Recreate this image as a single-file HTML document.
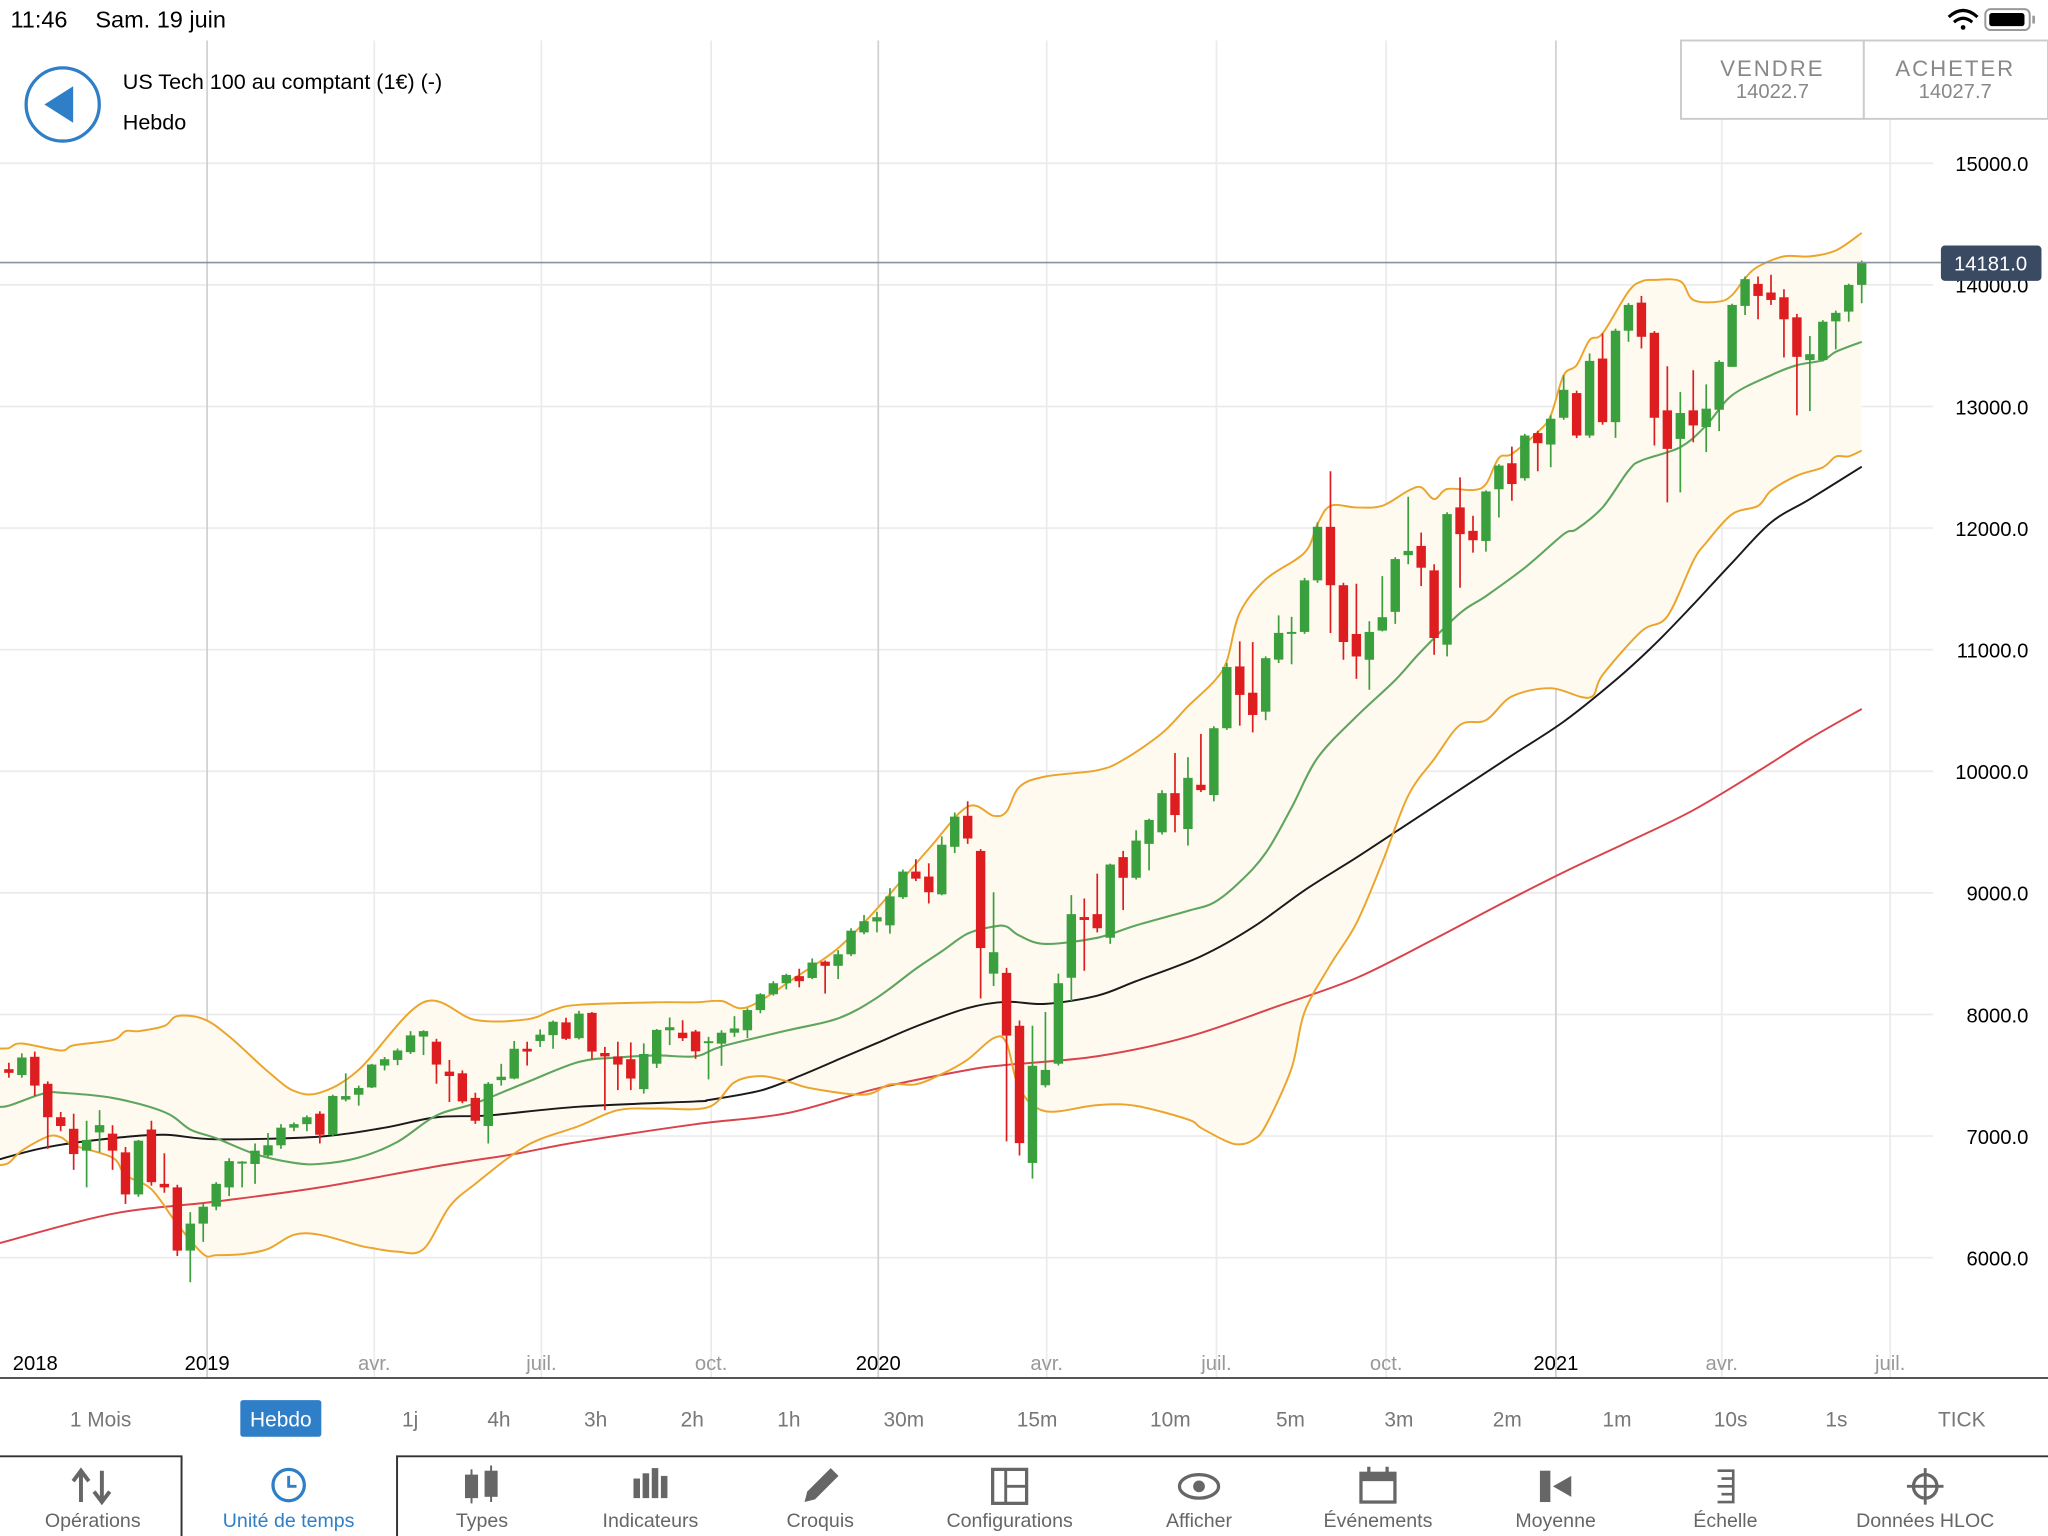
<!DOCTYPE html>
<html><head><meta charset="utf-8"><style>
html,body{margin:0;padding:0;background:#fff;width:2048px;height:1536px;overflow:hidden}
svg{display:block}
text{font-family:"Liberation Sans",sans-serif}
</style></head><body>
<svg id="root" width="2048" height="1536" viewBox="0 0 1568 1176" preserveAspectRatio="none" xmlns="http://www.w3.org/2000/svg">
<rect x="0" y="0" width="1568" height="1176" fill="#fff"/>
<g id="grid"></g>
<g id="bands"></g>
<g id="candles"></g>
<!-- status bar -->
<text x="8" y="21" font-size="18" fill="#000">11:46</text>
<text x="73" y="21" font-size="18" fill="#000">Sam. 19 juin</text>
<g fill="none" stroke="#000" stroke-width="2.4">
<path d="M1492 13 q11 -10 22 0"/><path d="M1496 17 q7 -6 14 0"/><circle cx="1503" cy="21" r="1.8" fill="#000" stroke="none"/></g>
<g><rect x="1520" y="7" width="34" height="16" rx="4" fill="none" stroke="#999" stroke-width="1.5"/><rect x="1523" y="10" width="27" height="10" rx="2" fill="#000"/><rect x="1556" y="12" width="2" height="6" fill="#999"/></g>
<!-- header -->
<g><circle cx="48" cy="80" r="28" fill="#fff" stroke="#2f7fc8" stroke-width="2.5"/><path d="M34 80 L56 66 L56 94 Z" fill="#2f7fc8"/></g>
<text x="94" y="68" font-size="16.5" fill="#000">US Tech 100 au comptant (1€) (-)</text>
<text x="94" y="99" font-size="16.5" fill="#000">Hebdo</text>
<g><rect x="1287" y="31" width="140" height="60" fill="#fff" stroke="#ccc" stroke-width="1.5"/>
<text x="1357" y="58" font-size="17" fill="#888" text-anchor="middle" letter-spacing="1.5">VENDRE</text>
<text x="1357" y="75" font-size="15.5" fill="#888" text-anchor="middle">14022.7</text></g>
<g><rect x="1427" y="31" width="141" height="60" fill="#fff" stroke="#ccc" stroke-width="1.5"/>
<text x="1497" y="58" font-size="17" fill="#888" text-anchor="middle" letter-spacing="1.5">ACHETER</text>
<text x="1497" y="75" font-size="15.5" fill="#888" text-anchor="middle">14027.7</text></g>
<g id="yaxis"></g>
<g id="xaxis"></g>
<line x1="0" y1="201" x2="1486" y2="201" stroke="#8a929c" stroke-width="1.2"/>
<g><rect x="1486" y="188" width="77" height="27" rx="3" fill="#3b4a63"/><text x="1524" y="207" font-size="15.5" fill="#fff" text-anchor="middle">14181.0</text></g>
<line x1="0" y1="1055" x2="1568" y2="1055" stroke="#555" stroke-width="1.5"/>
<g id="tf"></g>
<path d="M0 1115 H139 V1176 M304 1176 V1115 H1568" fill="none" stroke="#333" stroke-width="1.5"/>
<g id="tabs"></g>
</svg>
<script>
// ---------------- data ----------------
const opens=[7550,7502,7652,7430,7155,7060,6880,7030,7020,6866,6520,7054,6607,6578,6058,6280,6420,6578,6780,6770,6840,6924,7069,7098,7184,7011,7300,7340,7400,7580,7626,7690,7818,7776,7530,7516,7314,7083,7460,7473,7718,7782,7830,7935,7805,8013,7683,7655,7632,7386,7595,7870,7850,7860,7765,7760,7850,7870,8036,8166,8257,8315,8300,8434,8400,8495,8675,8765,8733,8964,9175,9134,8988,9379,9634,9345,8336,8342,7907,6779,7418,7595,8302,8801,8825,8631,9294,9124,9403,9498,9820,9525,9889,9804,10354,10862,10646,10490,10918,11136,11146,11570,12010,11530,11129,10917,11157,11311,11777,11853,11652,11041,12170,11977,11894,12319,12533,12410,12781,12687,12907,13110,12761,13394,12871,13623,13854,13606,12968,12733,12968,12831,12973,13326,13827,14008,13937,13898,13733,13381,13381,13700,13780,14000];
const highs=[7603,7680,7695,7450,7198,7184,7126,7213,7089,6910,6968,7126,6858,6600,6375,6448,6621,6818,6794,6939,7025,7098,7112,7170,7204,7340,7516,7415,7594,7650,7720,7863,7870,7800,7626,7540,7357,7444,7594,7782,7776,7877,7950,7973,8030,8020,7733,7776,7770,7762,7880,7975,7952,7873,7816,7870,7986,8050,8175,8274,8335,8376,8461,8444,8529,8709,8818,8845,9039,9192,9277,9243,9464,9661,9753,9360,9005,8383,7950,7907,8020,8336,8981,8954,9158,9240,9345,9515,9610,9844,10150,10116,10307,10370,10891,11068,11062,10945,11282,11270,11590,12046,12467,11550,11542,11234,11605,11760,12258,11963,11702,12130,12417,12101,12310,12525,12670,12775,12800,12927,13257,13130,13436,13601,13640,13850,13909,13620,13331,13119,13298,13182,13380,13845,14069,14069,14083,13964,13761,13579,13710,13788,14010,14200];
const lows=[7480,7480,7329,6895,7040,6722,6578,6866,6722,6442,6500,6592,6534,6014,5798,6130,6390,6506,6578,6607,6823,6895,7040,7040,6939,7000,7285,7250,7395,7540,7583,7675,7666,7430,7280,7270,7100,6939,7415,7467,7580,7733,7718,7790,7795,7632,7213,7378,7378,7349,7560,7748,7782,7635,7466,7578,7816,7806,8010,8155,8206,8223,8290,8172,8291,8480,8660,8675,8665,8950,9097,8913,8980,9328,9403,8131,8234,6956,6840,6650,7400,7580,8111,8359,8675,8580,8859,9110,9185,9480,9498,9389,9830,9753,10340,10375,10320,10420,10890,10880,11130,11550,11137,10917,10760,10670,11150,11212,11702,11523,10958,10945,11509,11798,11806,12087,12225,12390,12467,12500,12890,12740,12742,12850,12742,13532,13477,12679,12211,12293,12706,12624,12797,13326,13752,13717,13835,13403,12927,12962,13370,13469,13697,13849];
const closes=[7520,7646,7415,7155,7083,6852,6968,7090,6880,6520,6962,6621,6578,6058,6280,6419,6607,6794,6790,6880,6924,7069,7098,7155,7011,7330,7329,7395,7588,7632,7704,7828,7863,7588,7494,7285,7126,7430,7488,7718,7695,7834,7940,7800,8007,7695,7655,7588,7473,7675,7873,7895,7805,7697,7780,7850,7885,8036,8166,8257,8325,8274,8427,8400,8495,8689,8767,8800,8971,9175,9117,9005,9396,9627,9447,8546,8512,7826,6942,7578,7544,8257,8825,8777,8709,9233,9124,9430,9600,9820,9640,9946,9845,10354,10857,10628,10463,10930,11138,11146,11570,12010,11530,11063,10944,11146,11267,11745,11812,11674,11096,12115,11950,11900,12301,12514,12362,12761,12698,12899,13137,12761,13375,12871,13623,13835,13573,12907,12651,12946,12844,12982,13367,13835,14047,13909,13876,13717,13408,13430,13697,13770,14000,14181];

const upperIdx=[-0.7,0,1,4,5,8,9,10,12,13,15,17,20,22,24,27,32,36,40,42,44,50,53,55,57,61,64,67,71,74,76,77,78,80,84,86,89,91,93,94,95,97,100,101,102,104,106,108,109,110,111,113,114,115,116,118,119,120,121,122,123,125,126,127,129,130,132,133,134,135,137,139,141,143];
const upperVal=[7720,7724,7762,7704,7747,7790,7863,7863,7906,7987,7964,7820,7530,7372,7357,7545,8100,7955,7960,8036,8080,8100,8100,8111,8060,8325,8546,8869,9362,9709,9634,9668,9872,9957,10008,10093,10314,10534,10738,10908,11303,11578,11798,12032,12183,12170,12183,12307,12335,12238,12321,12313,12362,12577,12610,12789,12927,13257,13339,13546,13601,13945,14028,14041,14030,13876,13862,13917,14055,14150,14234,14234,14283,14427];
const midIdx=[-0.7,0,2,3,4,8,12,14,16,19,22,24,27,30,33,36,40,44,47,50,53,55,60,64,67,70,72,74,76,77,78,80,84,87,91,93,95,97,99,101,104,107,109,112,114,117,120,121,123,125,126,129,131,133,136,138,140,141,143];
const midVal=[7240,7250,7328,7357,7357,7314,7198,7054,6982,6852,6780,6771,6823,6953,7170,7270,7444,7610,7646,7663,7656,7737,7867,7968,8138,8376,8519,8665,8723,8723,8648,8580,8631,8733,8852,8920,9090,9328,9702,10110,10450,10750,10986,11300,11440,11674,11949,11991,12170,12472,12555,12665,12844,13092,13257,13339,13380,13449,13532];
const lowerIdx=[-0.7,0,1,3,4,5,8,9,11,13,15,16,18,20,22,24,27,28,30,32,34,36,40,44,47,50,54,56,58,60,62,66,68,70,72,74,76,77,78,80,84,87,91,92,94,95,96,97,99,100,102,104,106,108,110,112,114,116,119,122,123,126,128,130,131,133,135,136,138,140,141,142,143];
const lowerVal=[6760,6780,6880,6996,6990,6924,6823,6679,6563,6274,6029,6020,6029,6072,6188,6188,6101,6080,6049,6070,6419,6607,6924,7083,7213,7227,7238,7442,7493,7452,7391,7340,7425,7425,7510,7629,7806,7765,7391,7204,7255,7248,7136,7068,6956,6932,6966,7085,7560,8020,8410,8750,9250,9800,10100,10380,10420,10615,10683,10606,10793,11151,11275,11729,11880,12114,12183,12307,12431,12500,12588,12590,12637];
const ma50Idx=[-0.7,3,8,12,16,24,29,33,37,44,53,54,58,61,64,67,70,74,77,80,84,87,92,96,100,104,108,112,116,120,124,127,130,133,136,139,143];
const ma50Val=[6810,6910,6982,7011,6973,6996,7069,7155,7170,7242,7285,7296,7374,7493,7629,7765,7901,8053,8104,8087,8155,8274,8478,8716,9022,9290,9570,9850,10130,10408,10750,11041,11371,11715,12046,12238,12505];
const ma100Idx=[-0.7,8,16,24,33,39,44,53,60,67,74,77,84,91,98,104,110,115,120,125,130,135,139,143];
const ma100Val=[6120,6361,6462,6578,6751,6852,6953,7098,7187,7391,7544,7585,7656,7816,8071,8300,8620,8900,9170,9420,9680,10000,10270,10512];

const yTicks=[15000,14000,13000,12000,11000,10000,9000,8000,7000,6000];
const yTickLabels=["15000.0","14000.0","13000.0","12000.0","11000.0","10000.0","9000.0","8000.0","7000.0","6000.0"];
const xTickWeeks=[-36.8,15.3,28.2,41.1,54.2,67.1,80.1,93.2,106.3,119.4,132.2,145.2];
const xTickLabels=["2018","2019","avr.","juil.","oct.","2020","avr.","juil.","oct.","2021","avr.","juil."];
const xTickMajor=[true,true,false,false,false,true,false,false,false,true,false,false];

// ---------------- scales ----------------
const NS="http://www.w3.org/2000/svg";
function yS(v){return 125+(15000-v)*0.0931;}
function xS(i){return 6.8+i*9.92;}
function mk(tag,attrs,parent){const e=document.createElementNS(NS,tag);for(const k in attrs)e.setAttribute(k,attrs[k]);parent.appendChild(e);return e;}

const grid=document.getElementById('grid');
yTicks.forEach((v,i)=>{
  const l=mk('line',{x1:0,x2:1480,y1:yS(v),y2:yS(v),stroke:'#ebebeb','stroke-width':1.3},grid);
  
  
});
xTickWeeks.forEach((w,i)=>{
  const x=xS(w);
  if(x<0)return;
  const l=mk('line',{x1:x,x2:x,y1:31,y2:1055,stroke:xTickMajor[i]?'#d0d0d0':'#ebebeb','stroke-width':1.3},grid);
  
  
});

const yax=document.getElementById('yaxis');
yTicks.forEach((v,i)=>{
  const t=mk('text',{x:1553,y:yS(v)+6,'font-size':15.5,fill:'#000','text-anchor':'end'},yax);
  t.textContent=yTickLabels[i];
  
  
});
const xax=document.getElementById('xaxis');
xTickWeeks.forEach((w,i)=>{
  let x=xS(w); if(x<0)x=27;
  const t=mk('text',{x:x,y:1049,'font-size':15.5,fill:xTickMajor[i]?'#000':'#999','text-anchor':'middle'},xax);
  t.textContent=xTickLabels[i];
  
  
});

// ---------------- indicators ----------------
const bands=document.getElementById('bands');
function xy(idx,val){return idx.map((d,k)=>[xS(d),yS(val[k])]);}
function smooth(p){
  let d='M'+p[0][0].toFixed(1)+' '+p[0][1].toFixed(1);
  for(let i=0;i<p.length-1;i++){
    const p0=p[Math.max(0,i-1)],p1=p[i],p2=p[i+1],p3=p[Math.min(p.length-1,i+2)];
    const c1=[p1[0]+(p2[0]-p0[0])/6,p1[1]+(p2[1]-p0[1])/6];
    const c2=[p2[0]-(p3[0]-p1[0])/6,p2[1]-(p3[1]-p1[1])/6];
    d+=` C${c1[0].toFixed(1)} ${c1[1].toFixed(1)} ${c2[0].toFixed(1)} ${c2[1].toFixed(1)} ${p2[0].toFixed(1)} ${p2[1].toFixed(1)}`;
  }
  return d;
}
const up=xy(upperIdx,upperVal), lo=xy(lowerIdx,lowerVal);
const fillPath=smooth(up)+' L'+smooth(lo.slice().reverse()).slice(1)+' Z';
const bf=mk('path',{d:fillPath,fill:'#fffaf0',stroke:'none'},bands);


function line(idx,val,color,name,w){
  const p=mk('path',{d:smooth(xy(idx,val)),fill:'none',stroke:color,'stroke-width':w,'stroke-linejoin':'round'},bands);
  
  
}
line(ma100Idx,ma100Val,'#d9434a','moving-average-long',1.5);
line(ma50Idx,ma50Val,'#1a1a1a','moving-average-medium',1.5);
line(upperIdx,upperVal,'#eca52c','bollinger-upper',1.5);
line(lowerIdx,lowerVal,'#eca52c','bollinger-lower',1.5);
line(midIdx,midVal,'#5ea65e','bollinger-middle',1.6);

// ---------------- candles ----------------
const cg=document.getElementById('candles');
closes.forEach((c,i)=>{
  const o=opens[i],isUp=c>=o,col=isUp?'#3a9f3d':'#dd1d1f',x=xS(i);
  const g=mk('g',{},cg);
  
  
  mk('line',{x1:x,x2:x,y1:yS(highs[i]),y2:yS(lows[i]),stroke:col,'stroke-width':1.3},g);
  const top=yS(Math.max(o,c)),bot=yS(Math.min(o,c));
  mk('rect',{x:x-3.6,y:top,width:7.2,height:Math.max(1.5,bot-top),fill:col},g);
});

// ---------------- timeframe bar ----------------
const tfLabels=["1 Mois","Hebdo","1j","4h","3h","2h","1h","30m","15m","10m","5m","3m","2m","1m","10s","1s","TICK"];
const tfX=[77,215,314,382,456,530,604,692,794,896,988,1071,1154,1238,1325,1406,1502];
const tf=document.getElementById('tf');
tfLabels.forEach((s,i)=>{
  const g=mk('g',{},tf);
  
  
  if(i===1) mk('rect',{x:184,y:1072,width:62,height:28,rx:2,fill:'#2f7fc8'},g);
  const t=mk('text',{x:tfX[i],y:1092,'font-size':16,fill:i===1?'#fff':'#777','text-anchor':'middle'},g);
  t.textContent=s;
});

// ---------------- tabs ----------------
const tabLabels=["Opérations","Unité de temps","Types","Indicateurs","Croquis","Configurations","Afficher","Événements","Moyenne","Échelle","Données HLOC"];
const tabX=[71,221,369,498,628,773,918,1055,1191,1321,1474];
const tabs=document.getElementById('tabs');
tabLabels.forEach((s,i)=>{
  const g=mk('g',{},tabs);
  
  
  const col=i===1?'#2f7fc8':'#666';
  const x=tabX[i];
  if(i===0){mk('path',{d:`M${x-9} 1150 V1128 M${x-15} 1134 L${x-9} 1126 L${x-3} 1134 M${x+7} 1126 V1148 M${x+1} 1142 L${x+7} 1150 L${x+13} 1142`,fill:'none',stroke:col,'stroke-width':3},g);}
  else if(i===1){mk('circle',{cx:x,cy:1137,r:12,fill:'none',stroke:col,'stroke-width':2.5},g);mk('path',{d:`M${x} 1130 V1138 H${x+6}`,fill:'none',stroke:col,'stroke-width':2.2},g);}
  else if(i===2){mk('rect',{x:x-13,y:1129,width:10,height:18,fill:col},g);mk('rect',{x:x+2,y:1126,width:10,height:20,fill:col},g);mk('path',{d:`M${x-8} 1125 V1151 M${x+7} 1122 V1150`,stroke:col,'stroke-width':1.5},g);}
  else if(i===3){[0,1,2,3].forEach(k=>mk('rect',{x:x-13+k*7,y:1138-[6,10,14,8][k],width:5,height:[6,10,14,8][k]+9,fill:col},g));}
  else if(i===4){mk('path',{d:`M${x-12} 1150 L${x-10} 1142 L${x+8} 1124 L${x+14} 1130 L${x-4} 1148 Z`,fill:col},g);}
  else if(i===5){mk('rect',{x:x-13,y:1125,width:26,height:26,fill:'none',stroke:col,'stroke-width':2.5},g);mk('path',{d:`M${x-3} 1125 V1151 M${x-3} 1138 H${x+13}`,stroke:col,'stroke-width':2.2},g);}
  else if(i===6){mk('ellipse',{cx:x,cy:1138,rx:15,ry:9,fill:'none',stroke:col,'stroke-width':2.5},g);mk('circle',{cx:x,cy:1138,r:4.5,fill:col},g);}
  else if(i===7){mk('rect',{x:x-13,y:1128,width:26,height:22,fill:'none',stroke:col,'stroke-width':2.5},g);mk('rect',{x:x-13,y:1128,width:26,height:6,fill:col},g);mk('path',{d:`M${x-7} 1123 V1130 M${x+7} 1123 V1130`,stroke:col,'stroke-width':2.5},g);}
  else if(i===8){mk('rect',{x:x-12,y:1126,width:8,height:24,fill:col},g);mk('path',{d:`M${x-2} 1138 L${x+12} 1130 V1146 Z`,fill:col},g);}
  else if(i===9){mk('path',{d:`M${x+6} 1125 V1151 M${x-6} 1126 H${x+6} M${x-3} 1132 H${x+6} M${x-6} 1138 H${x+6} M${x-3} 1144 H${x+6} M${x-6} 1150 H${x+6}`,stroke:col,'stroke-width':2},g);}
  else if(i===10){mk('circle',{cx:x,cy:1138,r:9,fill:'none',stroke:col,'stroke-width':2.5},g);mk('path',{d:`M${x} 1124 V1152 M${x-14} 1138 H${x+14}`,stroke:col,'stroke-width':2.2},g);}
  const t=mk('text',{x:x,y:1169,'font-size':15,fill:col,'text-anchor':'middle'},g);
  t.textContent=s;
});
</script>
</body></html>
